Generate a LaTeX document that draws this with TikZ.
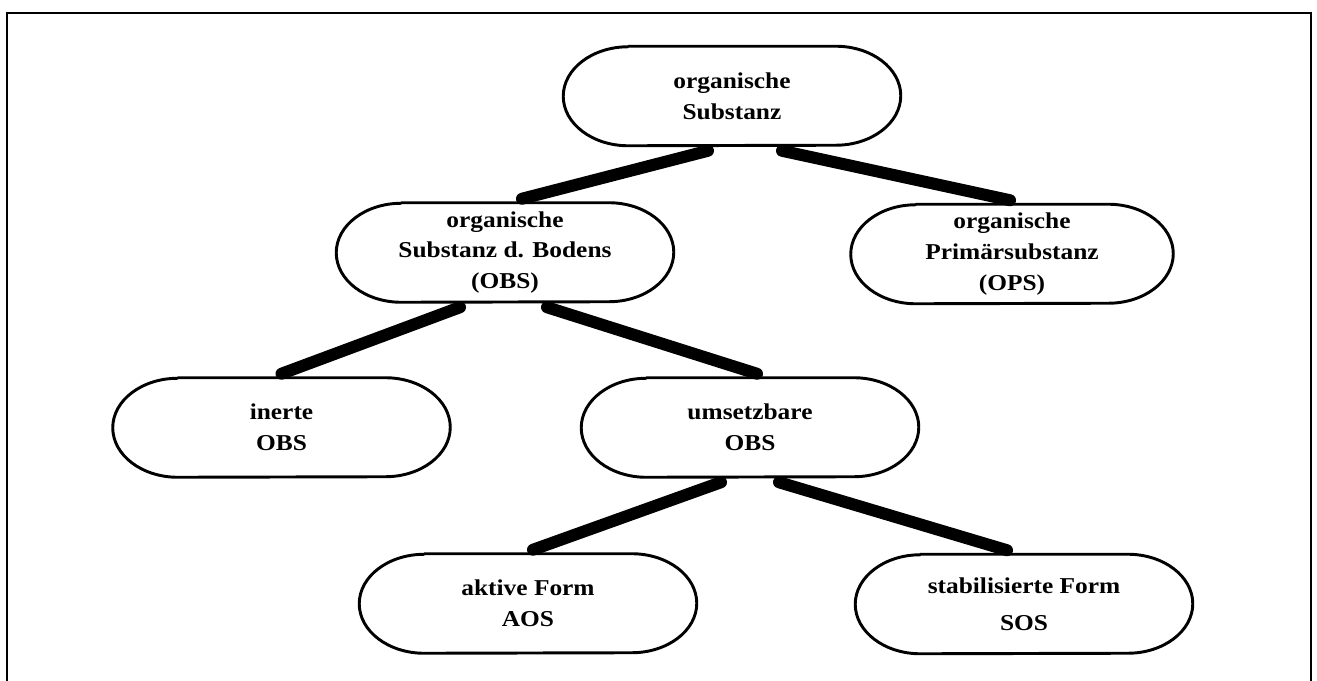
\documentclass[tikz,border=0pt]{standalone}
\usepackage{fontspec}
\setmainfont{Liberation Serif}[FakeStretch=1.12]
\usetikzlibrary{calc}
\newcommand{\stadiumoutline}[1]{%
  \draw[outl] ([xshift=48.75pt]#1.north west) -- ([xshift=-48.75pt]#1.north east)
    arc[start angle=90,end angle=-90,x radius=48.75pt,y radius=0.5*\nodeh]
    -- ([xshift=48.75pt]#1.south west)
    arc[start angle=270,end angle=90,x radius=48.75pt,y radius=0.5*\nodeh]
    -- cycle;}
\newlength{\nodeh}
\setlength{\nodeh}{74.25pt}
\begin{document}
\begin{tikzpicture}[x=0.75pt,y=-0.75pt,
  blob/.style={shape=rectangle,inner sep=0pt,minimum width=252.75pt,minimum height=74.25pt,
    align=center,font=\fontsize{17pt}{23pt}\selectfont\bfseries},
  outl/.style={line width=2.2pt,line join=round},
  link/.style={line width=9pt,line cap=round},
  frame/.style={line width=2.2pt}]
\useasboundingbox (0,0) rectangle (1317,681);
\draw[frame] (7,683) -- (7,13) -- (1311,13) -- (1311,683);
\node[blob] (top) at (732,96) {organische\\Substanz};
\node[blob] (obs) at (505,252.5) {organische\\Substanz d. Bodens\\(OBS)};
\node[blob,minimum width=241.5pt] (ops) at (1012,254) {organische\\Primärsubstanz\\(OPS)};
\node[blob] (inerte) at (281.5,427.5) {inerte\\OBS};
\node[blob] (ums) at (750,427.5) {umsetzbare\\OBS};
\node[blob] (aos) at (528,603.5) {aktive Form\\AOS};
\node[blob] (sos) at (1024,604) {stabilisierte Form\\[5pt]SOS};
\foreach \n in {top,obs,ops,inerte,ums,aos,sos} {\stadiumoutline{\n}}
\draw[link] ([shift={(-24,5)}]top.south) -- ([shift={(17,-4)}]obs.north);
\draw[link] ([shift={(50,5)}]top.south) -- ([shift={(-2,-4)}]ops.north);
\draw[link] ([shift={(-45,5)}]obs.south) -- ([shift={(0,-4)}]inerte.north);
\draw[link] ([shift={(42,5)}]obs.south) -- ([shift={(7,-4)}]ums.north);
\draw[link] ([shift={(-29,5)}]ums.south) -- ([shift={(5,-4)}]aos.north);
\draw[link] ([shift={(29,5)}]ums.south) -- ([shift={(-17,-4)}]sos.north);
\end{tikzpicture}
\end{document}
